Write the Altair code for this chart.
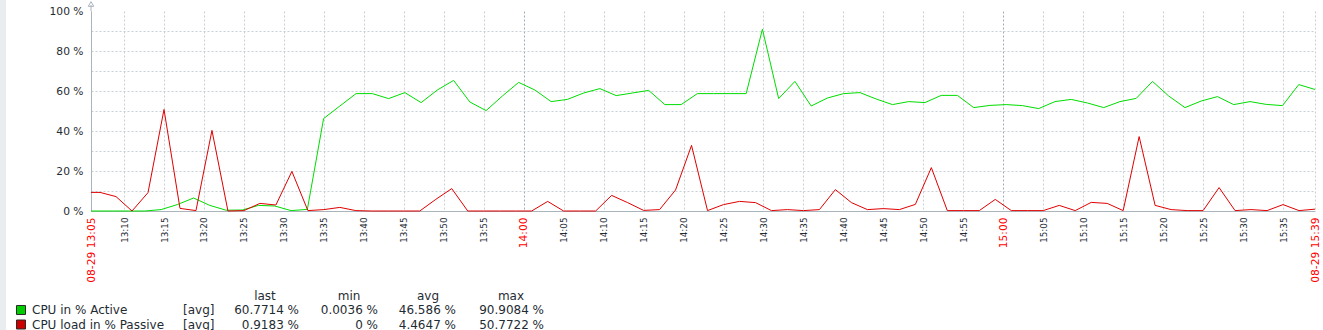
import altair as alt
import pandas as pd

DAY = "2024-08-29"

# ---- series: CPU in % Active (green) ----
green_times = [
    "13:05:52", "13:06:30", "13:08:32", "13:10:34", "13:12:36", "13:14:38", "13:16:40",
    "13:18:42", "13:20:44", "13:22:46", "13:24:48", "13:26:50", "13:28:52", "13:30:54",
    "13:32:56", "13:34:58", "13:37:00", "13:39:02", "13:41:04", "13:43:06", "13:45:08",
    "13:47:10", "13:49:12", "13:51:14", "13:53:16", "13:55:18", "13:57:20", "13:59:22",
    "14:01:24", "14:03:26", "14:05:28", "14:07:30", "14:09:32", "14:11:34", "14:13:36",
    "14:15:38", "14:17:40", "14:19:42", "14:21:44", "14:23:46", "14:25:48", "14:27:50",
    "14:29:52", "14:31:54", "14:33:56", "14:35:58", "14:38:00", "14:40:02", "14:42:04",
    "14:44:06", "14:46:08", "14:48:10", "14:50:12", "14:52:14", "14:54:16", "14:56:18",
    "14:58:20", "15:00:22", "15:02:24", "15:04:26", "15:06:28", "15:08:30", "15:10:32",
    "15:12:34", "15:14:36", "15:16:38", "15:18:40", "15:20:42", "15:22:44", "15:24:46",
    "15:26:48", "15:28:50", "15:30:52", "15:32:54", "15:34:56", "15:36:58", "15:39:00",
]
green_values = [
    0.0, 0.0, 0.0, 0.0, 0.0, 0.7, 3.2,
    6.5, 2.8, 0.4, 0.5, 2.8, 2.5, 0.2,
    0.8, 46.2, 52.5, 58.7, 58.7, 56.2, 59.2,
    54.2, 60.5, 65.3, 54.5, 50.2, 57.5, 64.3,
    60.5, 54.7, 55.8, 59.0, 61.2, 57.7, 59.0,
    60.3, 53.2, 53.2, 58.7, 58.7, 58.7, 58.7,
    90.9, 56.2, 64.8, 52.5, 56.5, 58.7, 59.2,
    56.0, 53.2, 54.7, 54.2, 57.8, 57.8, 51.7,
    52.8, 53.2, 52.7, 51.2, 54.7, 55.8, 54.0,
    51.7, 54.7, 56.3, 64.8, 57.5, 51.7, 55.0,
    57.2, 53.2, 54.7, 53.3, 52.7, 63.2, 60.77,
]

# ---- series: CPU load in % Passive (red) ----
red_times = [
    "13:05:52", "13:07:00", "13:09:00", "13:11:00", "13:13:00", "13:15:00", "13:17:00",
    "13:19:00", "13:21:00", "13:23:00", "13:25:00", "13:27:00", "13:29:00", "13:31:00",
    "13:33:00", "13:35:00", "13:37:00", "13:39:00", "13:41:00", "13:43:00", "13:45:00",
    "13:47:00", "13:49:00", "13:51:00", "13:53:00", "13:55:00", "13:57:00", "13:59:00",
    "14:01:00", "14:03:00", "14:05:00", "14:07:00", "14:09:00", "14:11:00", "14:13:00",
    "14:15:00", "14:17:00", "14:19:00", "14:21:00", "14:23:00", "14:25:00", "14:27:00",
    "14:29:00", "14:31:00", "14:33:00", "14:35:00", "14:37:00", "14:39:00", "14:41:00",
    "14:43:00", "14:45:00", "14:47:00", "14:49:00", "14:51:00", "14:53:00", "14:55:00",
    "14:57:00", "14:59:00", "15:01:00", "15:03:00", "15:05:00", "15:07:00", "15:09:00",
    "15:11:00", "15:13:00", "15:15:00", "15:17:00", "15:19:00", "15:21:00", "15:23:00",
    "15:25:00", "15:27:00", "15:29:00", "15:31:00", "15:33:00", "15:35:00", "15:37:00",
    "15:39:00",
]
red_values = [
    9.3, 9.3, 7.2, 0.0, 9.2, 50.77, 1.3,
    0.2, 40.3, 0.0, 0.2, 3.8, 3.0, 19.8,
    0.2, 0.7, 1.8, 0.2, 0.0, 0.0, 0.0,
    0.0, 5.8, 11.2, 0.0, 0.0, 0.0, 0.0,
    0.0, 4.8, 0.0, 0.0, 0.0, 7.8, 4.2,
    0.3, 0.7, 10.5, 32.8, 0.2, 3.2, 4.8,
    4.2, 0.2, 0.7, 0.2, 0.7, 10.7, 4.2,
    0.7, 1.2, 0.7, 3.3, 21.7, 0.2, 0.2,
    0.2, 5.8, 0.2, 0.2, 0.2, 2.8, 0.2,
    4.3, 3.8, 0.2, 37.2, 2.8, 0.7, 0.2,
    0.2, 11.7, 0.2, 0.7, 0.2, 3.2, 0.2,
    0.92,
]

# ---- axis ticks ----
x_tick_times = [
    "13:05:52", "13:10:00", "13:15:00", "13:20:00", "13:25:00", "13:30:00", "13:35:00",
    "13:40:00", "13:45:00", "13:50:00", "13:55:00", "14:00:00", "14:05:00", "14:10:00",
    "14:15:00", "14:20:00", "14:25:00", "14:30:00", "14:35:00", "14:40:00", "14:45:00",
    "14:50:00", "14:55:00", "15:00:00", "15:05:00", "15:10:00", "15:15:00", "15:20:00",
    "15:25:00", "15:30:00", "15:35:00", "15:39:00",
]
y_tick_values = [0, 10, 20, 30, 40, 50, 60, 70, 80, 90, 100]

# ---- legend table ----
legend_names = ["CPU in % Active", "CPU load in % Passive"]
legend_func = ["[avg]", "[avg]"]
legend_last = [60.7714, 0.9183]
legend_min = [0.0036, 0]
legend_avg = [46.586, 4.4647]
legend_max = [90.9084, 50.7722]
legend_headers = ["last", "min", "avg", "max"]

GREEN_LINE = "#00dd00"
RED_LINE = "#e00000"
SWATCH = ["#00cc00", "#cc0000"]
TEXT = "#1f2c33"
AXIS = "#a9b4bc"
FONT = "DejaVu Sans"


def dt(t):
    h, m, s = (int(v) for v in t.split(":"))
    return alt.DateTime(year=2024, month=8, date=29, hours=h, minutes=m, seconds=s)


green_df = pd.DataFrame({"time": [f"{DAY}T{t}" for t in green_times], "value": green_values})
red_df = pd.DataFrame({"time": [f"{DAY}T{t}" for t in red_times], "value": red_values})

endpoint_test = "minutes(datum.value) % 5 != 0 || seconds(datum.value) != 0"
red_label_test = "minutes(datum.value) == 0 || " + endpoint_test

x_enc = alt.X(
    "time:T",
    scale=alt.Scale(domain=[dt(x_tick_times[0]), dt(x_tick_times[-1])]),
    axis=alt.Axis(
        values=[dt(t) for t in x_tick_times],
        tickCount=200,
        labelExpr=f"({endpoint_test}) ? timeFormat(datum.value, '%m-%d %H:%M') : timeFormat(datum.value, '%H:%M')",
        labelAngle=270,
        labelAlign="right",
        labelBaseline="middle",
        labelPadding=6,
        labelOverlap=False,
        labelFlush=False,
        labelBound=False,
        labelFont=FONT,
        labelFontSize={"condition": {"test": red_label_test, "value": 10.7}, "value": 8.8},
        labelColor={"condition": {"test": red_label_test, "value": "#ff0000"}, "value": TEXT},
        ticks=False,
        domainColor=AXIS,
        gridColor={"condition": {"test": "minutes(datum.value) == 0 && seconds(datum.value) == 0", "value": "#9eabb4"}, "value": "#c9cfd4"},
        gridDash=[2, 2],
        title=None,
    ),
)
y_enc = alt.Y(
    "value:Q",
    scale=alt.Scale(domain=[0, 100], nice=False),
    axis=alt.Axis(
        values=y_tick_values,
        tickCount=200,
        labelExpr="datum.value % 20 == 0 ? datum.value + ' %' : ''",
        labelPadding=8,
        labelOverlap=False,
        labelFont=FONT,
        labelFontSize=10.7,
        labelColor=TEXT,
        ticks=False,
        domainColor=AXIS,
        gridColor="#c9cfd4",
        gridDash=[2, 2],
        gridOpacity={"condition": {"test": "datum.value == 100", "value": 0}, "value": 1},
        title=None,
    ),
)

green_line = alt.Chart(green_df).mark_line(color=GREEN_LINE, strokeWidth=1).encode(x=x_enc, y=y_enc)
red_line = alt.Chart(red_df).mark_line(color=RED_LINE, strokeWidth=1).encode(x="time:T", y="value:Q")

# decorations (left page strip, y-axis arrow)
deco_df = pd.DataFrame({"k": [0]})
strip = alt.Chart(deco_df).mark_rect(color="#e9edf0").encode(
    x=alt.value(-91), x2=alt.value(-85), y=alt.value(-11), y2=alt.value(319)
)
arrow_stem = alt.Chart(deco_df).mark_rule(color=AXIS, strokeWidth=1).encode(
    x=alt.value(0), y=alt.value(-6), y2=alt.value(0)
)
arrow_head = alt.Chart(deco_df).mark_point(
    shape="triangle-up", filled=False, color=AXIS, size=30, strokeWidth=1, opacity=1
).encode(x=alt.value(0), y=alt.value(-7))

# legend
layers = []
header_x = [174, 258, 337, 420]
for h, hx in zip(legend_headers, header_x):
    hdf = pd.DataFrame({"t": [h]})
    layers.append(
        alt.Chart(hdf).mark_text(align="center", baseline="alphabetic", font=FONT, fontSize=12, color=TEXT)
        .encode(x=alt.value(hx), y=alt.value(289), text="t:N")
    )

row_y = [303, 317.5]
for i in range(2):
    rdf = pd.DataFrame({
        "name": [legend_names[i]],
        "func": [legend_func[i]],
        "last": [f"{legend_last[i]:g} %"],
        "min": [f"{legend_min[i]:g} %"],
        "avg": [f"{legend_avg[i]:g} %"],
        "max": [f"{legend_max[i]:g} %"],
    })
    by = row_y[i]
    layers.append(
        alt.Chart(rdf).mark_rect(color=SWATCH[i], stroke="#2b2b2b", strokeWidth=1).encode(
            x=alt.value(-74.5), x2=alt.value(-65.5), y=alt.value(by - 8.5), y2=alt.value(by + 0.5)
        )
    )
    base = alt.Chart(rdf)
    layers.append(base.mark_text(align="left", baseline="alphabetic", font=FONT, fontSize=12, color=TEXT)
                  .encode(x=alt.value(-59), y=alt.value(by), text="name:N"))
    layers.append(base.mark_text(align="left", baseline="alphabetic", font=FONT, fontSize=12, color=TEXT)
                  .encode(x=alt.value(92), y=alt.value(by), text="func:N"))
    for col, rx in zip(["last", "min", "avg", "max"], [208, 287, 365, 453]):
        layers.append(base.mark_text(align="right", baseline="alphabetic", font=FONT, fontSize=12, color=TEXT)
                      .encode(x=alt.value(rx), y=alt.value(by), text=f"{col}:N"))

chart = alt.layer(strip, green_line, red_line, arrow_stem, arrow_head, *layers).properties(
    width=1224,
    height=200,
    autosize=alt.AutoSizeParams(type="none"),
    padding={"left": 91, "top": 11, "right": 8, "bottom": 119},
    background="white",
).configure_view(stroke=None)

chart.save("out.html", embed_options={"renderer": "svg", "actions": False})
